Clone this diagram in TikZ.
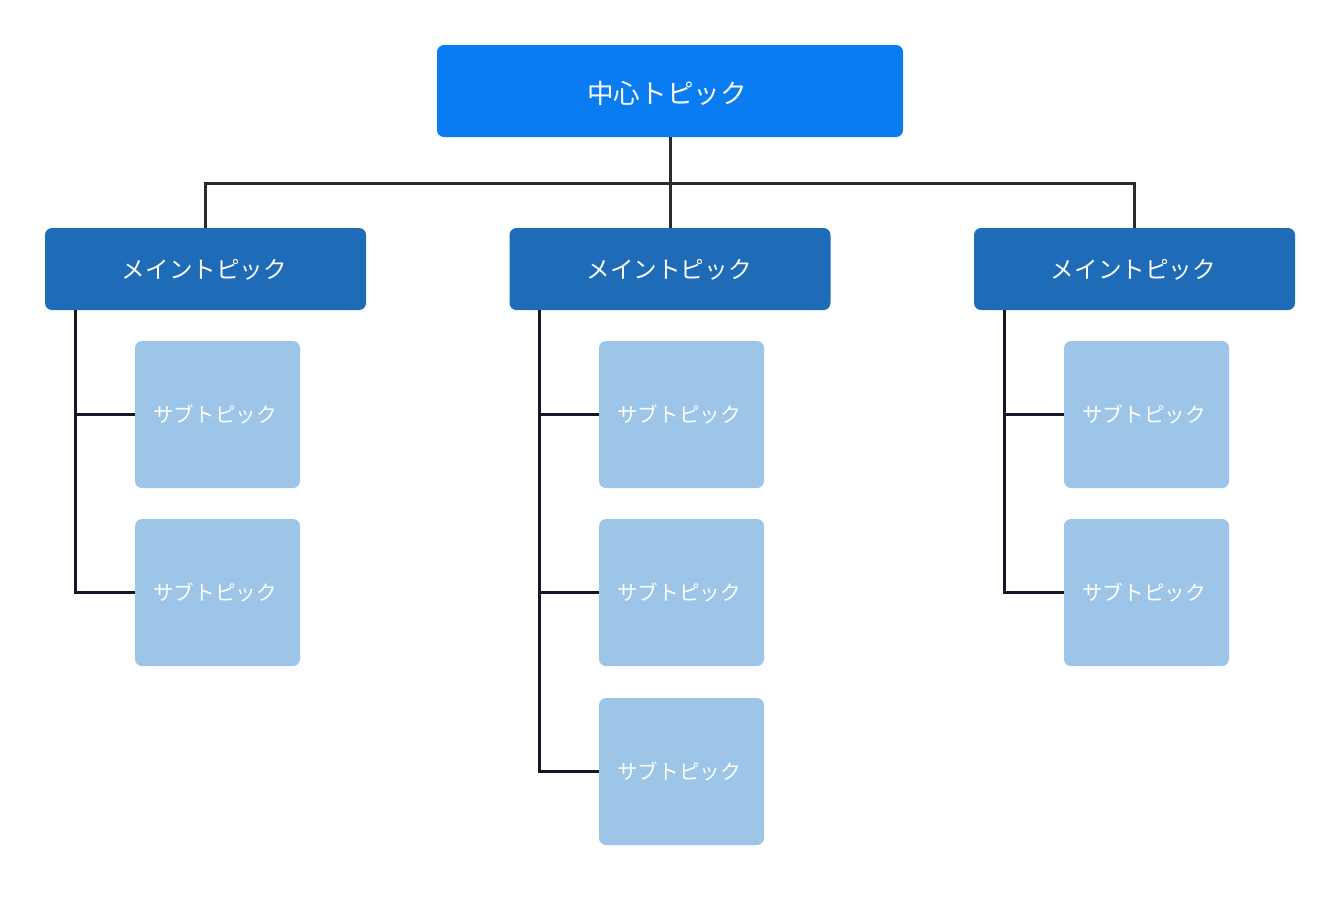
\documentclass[tikz,border=0pt]{standalone}
\usepackage{fontspec}
\setmainfont{Noto Sans CJK JP}
\definecolor{centerblue}{HTML}{087CF0}
\definecolor{mainblue}{HTML}{1E6BB8}
\definecolor{subblue}{HTML}{9DC5E8}
\definecolor{busgray}{HTML}{2B2B2B}
\definecolor{linknavy}{HTML}{16162A}
\begin{document}
\begin{tikzpicture}[x=1pt,y=-1pt,every node/.style={outer sep=0pt, inner sep=0pt, text=white, rounded corners=7pt},
centertopic/.style={fill=centerblue, minimum width=466, minimum height=92},
maintopic/.style={fill=mainblue, minimum width=321, minimum height=82},
subtopic/.style={fill=subblue, minimum width=165, minimum height=147},
centertext/.style={font=\fontsize{26.6}{30}\selectfont},
maintext/.style={font=\fontsize{23.6}{28}\selectfont},
subtext/.style={font=\fontsize{20.6}{24}\selectfont}]
\useasboundingbox (0,0) rectangle (1341,906);
\node[centertopic] (c) at (670,91) {};
\node[centertext] (ct) at (667,93) {中心トピック};
\foreach \i/\x in {1/205.5,2/670,3/1134.5} {
\node[maintopic] (m\i) at (\x,269) {};
\node[maintext] (mt\i) at (\x-1,270) {メイントピック};
}
\foreach \i/\x in {1/217.5,2/681.5,3/1146.5} {
\foreach \j/\y in {1/414.5,2/592.5} {
\node[subtopic] (s\i\j) at (\x,\y) {};
\node[subtext] (st\i\j) at (\x-2.5,\y) {サブトピック};
}}
\node[subtopic] (s23) at (681.5,771.5) {};
\node[subtext] (st23) at (679,771.5) {サブトピック};
\coordinate (bus) at (670,183);
\draw[color=busgray,line width=3pt] (c.south) -- (bus) -| (m1.north);
\draw[color=busgray,line width=3pt] (bus) -| (m3.north);
\draw[color=busgray,line width=3pt] (bus) -- (m2.north);
\foreach \i/\n in {1/2,2/3,3/2} {
\foreach \j in {1,...,\n} {
\draw[color=linknavy,line width=3pt] ([xshift=30pt]m\i.south west) |- (s\i\j.west);
}}
\end{tikzpicture}
\end{document}
